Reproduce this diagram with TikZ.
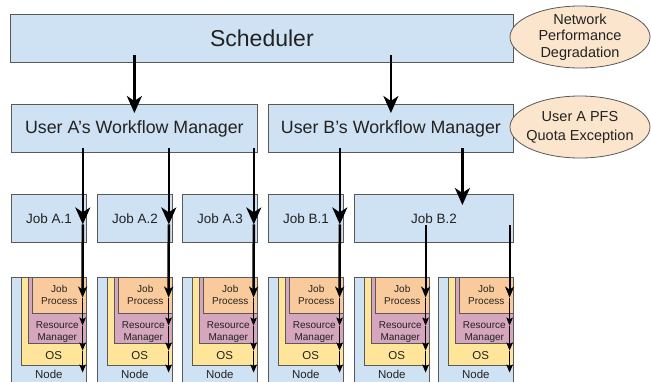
\documentclass[tikz,border=0pt]{standalone}
\usepackage{fontspec}
\setmainfont{Liberation Sans}
\usetikzlibrary{arrows.meta,calc,shapes.geometric}

\definecolor{boxblue}{HTML}{CFE2F3}
\definecolor{edgegray}{HTML}{595959}
\definecolor{osyellow}{HTML}{FFE599}
\definecolor{rmpurple}{HTML}{D5A6BD}
\definecolor{jporange}{HTML}{F9CB9C}
\definecolor{peach}{HTML}{FCE5CD}
\definecolor{inkgray}{HTML}{222222}

\begin{document}
\begin{tikzpicture}[x=1pt,y=-1pt,
  box/.style={draw=edgegray, line width=0.8pt, fill=boxblue, inner sep=0pt,
    anchor=north west, text=inkgray},
  layer/.style={draw=edgegray, line width=0.6pt, inner sep=0pt, anchor=north west,
    text=inkgray},
  ell/.style={ellipse, draw=edgegray, line width=0.8pt, fill=peach, inner sep=0pt,
    minimum width=140pt, minimum height=62pt},
  elltext/.style={align=center, text=inkgray, inner sep=0pt,
    font=\fontsize{14.5}{16.5}\selectfont},
  jobbox/.style={box, minimum width=75pt, minimum height=48pt,
    font=\fontsize{13.5}{16}\selectfont},
  wmbox/.style={box, minimum height=48pt, font=\fontsize{17.8}{21}\selectfont},
  smalltext/.style={align=center, text=inkgray, inner sep=0pt,
    font=\fontsize{10}{12}\selectfont},
  layertext/.style={align=center, text=inkgray, inner sep=0pt,
    font=\fontsize{11.5}{14}\selectfont},
  big/.style={line width=2.5pt, -{Stealth[length=17pt,width=15pt,inset=5pt]}},
  mid/.style={line width=2.5pt, -{Stealth[length=11pt,width=9pt,inset=3pt]}},
  midthin/.style={line width=1.8pt, -{Stealth[length=11pt,width=9pt,inset=3pt]}},
  small/.style={line width=1.2pt, -{Stealth[length=8pt,width=6.5pt,inset=1.5pt]}}]

\useasboundingbox (0,0) rectangle (651,381);
\clip (0,0) rectangle (651,381);
\fill[white] (0,0) rectangle (651,381);

% top level
\node[box, minimum width=503pt, minimum height=48pt,
  font=\fontsize{23}{27}\selectfont] (sched) at (10,14) {Scheduler};

% workflow managers
\node[wmbox, minimum width=246pt] (wmA) at (11,104) {User A’s Workflow Manager};
\node[wmbox, minimum width=245pt] (wmB) at (268,104) {User B’s Workflow Manager};

% jobs
\node[jobbox] (jA1) at (11,194) {Job A.1};
\node[jobbox] (jA2) at (97,194) {Job A.2};
\node[jobbox] (jA3) at (182,194) {Job A.3};
\node[jobbox] (jB1) at (268,194) {Job B.1};
\node[jobbox, minimum width=159pt] (jB2) at (354,194) {Job B.2};

% events
\node[ell] (net) at (580,37) {};
\node[elltext] (nettext) at (net.center) {Network\\Performance\\Degradation};
\node[ell] (quota) at (580,127) {};
\node[elltext, font=\fontsize{14.5}{19}\selectfont] (quotatext) at (quota.center)
  {User A PFS\\Quota Exception};

% compute nodes: node / OS / resource manager / job process
\foreach \i/\x in {1/11,2/97,3/182,4/268,5/354,6/438}{
  \node[layer, fill=boxblue, minimum width=75pt, minimum height=113pt] (nd\i) at (\x,277) {};
  \node[layer, fill=osyellow, minimum width=65pt, minimum height=88pt] (os\i) at (\x+10,277) {};
  \node[layer, fill=rmpurple, minimum width=58pt, minimum height=66pt] (rm\i) at (\x+17,277) {};
  \node[layer, fill=jporange, minimum width=54pt, minimum height=36pt, align=center,
    font=\fontsize{10}{12}\selectfont] (jp\i) at (\x+21,277) {Job\\Process};
  \node[smalltext] (rmt\i) at ($(rm\i.south)+(0,-12)$) {Resource\\Manager};
  \node[layertext] (ost\i) at ($(os\i.south)+(0,-10)$) {OS};
  \node[layertext] (ndt\i) at ($(nd\i.south)+(0,-16)$) {Node};
}

% scheduler to workflow managers
\draw[big] ($(sched.south -| wmA.north)+(0,-8)$) -- ($(wmA.north)+(0,9)$);
\draw[big] ($(sched.south -| wmB.north)+(0,-8)$) -- ($(wmB.north)+(0,9)$);

% workflow managers to jobs
\foreach \w/\j in {wmA/jA1,wmA/jA2,wmA/jA3,wmB/jB1}{
  \draw[big] ($(\w.south -| \j.east)+(-4,-5)$) -- ($(\j.east)+(-4,6)$);
}
\draw[big] ($(wmB.south -| jB2.north)+(28.5,-5)$) -- ($(jB2.north)+(28.5,11)$);

% jobs to job processes
\foreach \j/\i in {jA1/1,jA2/2,jA3/3,jB1/4}{
  \draw[mid] ($(\j.east)+(-4,6)$) -- ($(jp\i.south east)+(-4,-16)$);
}
\foreach \i in {5,6}{
  \draw[midthin] ($(jB2.center -| jp\i.east)+(-4,7)$) -- ($(jp\i.south east)+(-4,-16)$);
}

% down through the software stack
\foreach \i in {1,...,6}{
  \draw[small] ($(jp\i.south east)+(-4,-16)$) -- ($(rm\i.south east)+(-4,-18)$);
  \draw[small] ($(rm\i.south east)+(-4,-18)$) -- ($(os\i.south east)+(-4,-15)$);
  \draw[small] ($(os\i.south east)+(-4,-15)$) -- ($(nd\i.south east)+(-4,-18)$);
}
\end{tikzpicture}
\end{document}
